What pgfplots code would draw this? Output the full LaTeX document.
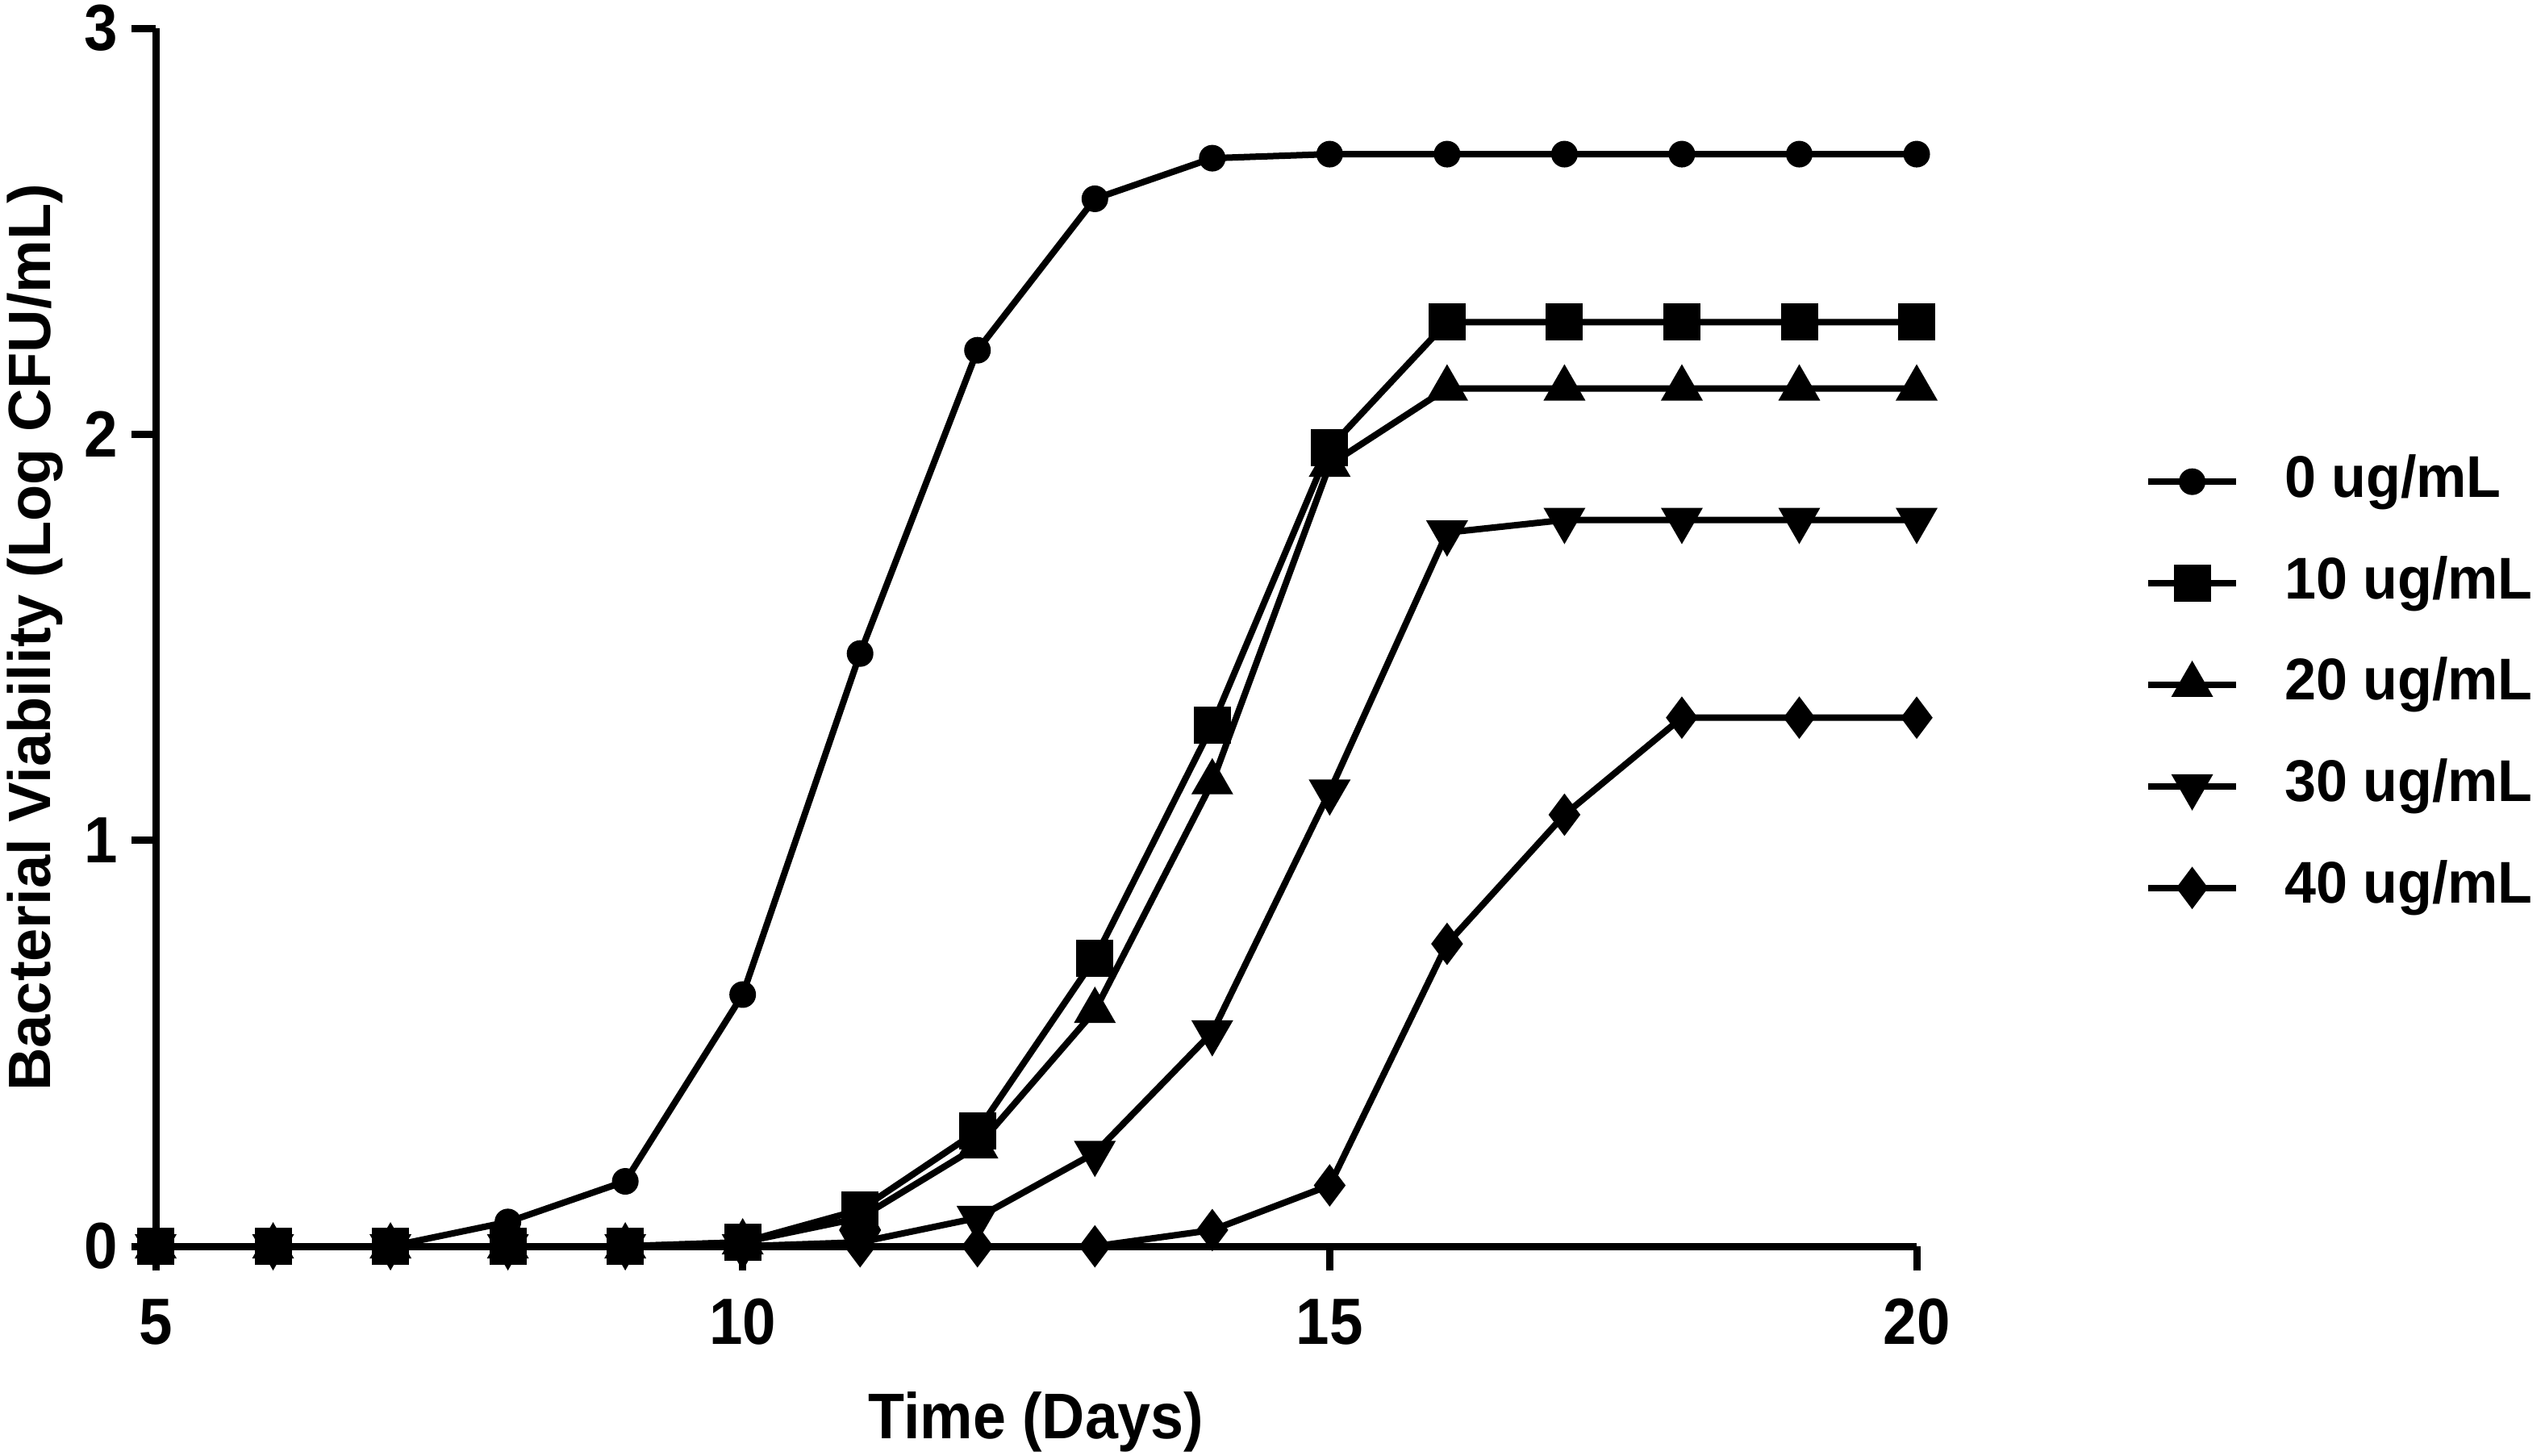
\documentclass[border=0pt]{standalone}
\usepackage{fontspec}
\setmainfont{Liberation Sans}
\newfontfamily\cf[FakeStretch=0.92]{Liberation Sans}
\newfontfamily\lf[FakeStretch=0.96]{Liberation Sans}
\usepackage{pgfplots}
\pgfplotsset{compat=1.18}
\begin{document}
\begin{tikzpicture}
\begin{axis}[
  scale only axis,
  width=218.3pt, height=151pt,
  xmin=5, xmax=20, ymin=0, ymax=3,
  axis x line*=bottom, axis y line*=left,
  axis line style={line width=0.9pt},
  xtick={5,10,15,20}, ytick={0,1,2,3},
  tick align=outside, major tick length=3pt,
  tick style={line width=0.9pt, black},
  ticklabel style={font=\cf\bfseries\fontsize{8.1}{9}\selectfont},
  yticklabel style={xshift=1.8pt},
  /pgf/number format/assume math mode=true,
  xlabel={Time (Days)},
  ylabel={Bacterial Viability (Log CFU/mL)},
  xlabel style={font=\cf\bfseries\fontsize{8}{9}\selectfont, at={(axis description cs:0.5,0)}, anchor=base, yshift=-23.8pt},
  ylabel style={font=\bfseries\fontsize{7.4}{8}\selectfont, at={(axis description cs:-0.06,0.5)}, anchor=base},
  clip=false,
  legend cell align=left,
  legend style={draw=none, fill=none, font=\lf\bfseries\fontsize{7.3}{8}\selectfont,
    at={(1.115,0.461)}, anchor=west, row sep=1.8pt, column sep=3.6pt},
  legend image code/.code={\draw[mark repeat=2,mark phase=2] plot coordinates {(0pt,0pt) (5.45pt,0pt) (10.9pt,0pt)};},
]
\addplot[black, line width=0.8pt, mark=*, mark size=1.45pt, mark options={solid, fill=black, line width=0.4pt}] coordinates {
(5,0) (6,0) (7,0) (8,0.06) (9,0.16) (10,0.62) (11,1.46) (12,2.207) (13,2.58) (14,2.68) (15,2.69) (16,2.69) (17,2.69) (18,2.69) (19,2.69) (20,2.69)};
\addlegendentry{0 ug/mL}
\addplot[black, line width=0.8pt, mark=square*, mark size=2.1pt, mark options={solid, fill=black, line width=0.4pt}] coordinates {
(5,0) (6,0) (7,0) (8,0) (9,0) (10,0.01) (11,0.09) (12,0.284) (13,0.709) (14,1.283) (15,1.967) (16,2.276) (17,2.276) (18,2.276) (19,2.276) (20,2.276)};
\addlegendentry{10 ug/mL}
\addplot[black, line width=0.8pt, mark=triangle*, mark size=2.6pt, mark options={solid, fill=black, line width=0.4pt}] coordinates {
(5,0) (6,0) (7,0) (8,0) (9,0) (10,0.01) (11,0.07) (12,0.246) (13,0.58) (14,1.143) (15,1.925) (16,2.113) (17,2.113) (18,2.113) (19,2.113) (20,2.113)};
\addlegendentry{20 ug/mL}
\addplot[black, line width=0.8pt, mark=triangle*, mark size=2.6pt, mark options={solid, fill=black, line width=0.4pt, rotate=180}] coordinates {
(5,0) (6,0) (7,0) (8,0) (9,0) (10,0) (11,0.01) (12,0.07) (13,0.23) (14,0.527) (15,1.12) (16,1.758) (17,1.789) (18,1.789) (19,1.789) (20,1.789)};
\addlegendentry{30 ug/mL}
\addplot[black, line width=0.8pt, mark=diamond*, mark size=2.3pt, mark options={solid, fill=black, line width=0.4pt}] coordinates {
(5,0) (6,0) (7,0) (8,0) (9,0) (10,0) (11,0) (12,0) (13,0) (14,0.04) (15,0.15) (16,0.745) (17,1.063) (18,1.302) (19,1.302) (20,1.302)};
\addlegendentry{40 ug/mL}
\end{axis}
\pgfresetboundingbox
\path[use as bounding box] (current axis.south west) ++(-19.3pt,-25.9pt) rectangle ++(315pt,180.4pt);
\end{tikzpicture}
\end{document}
